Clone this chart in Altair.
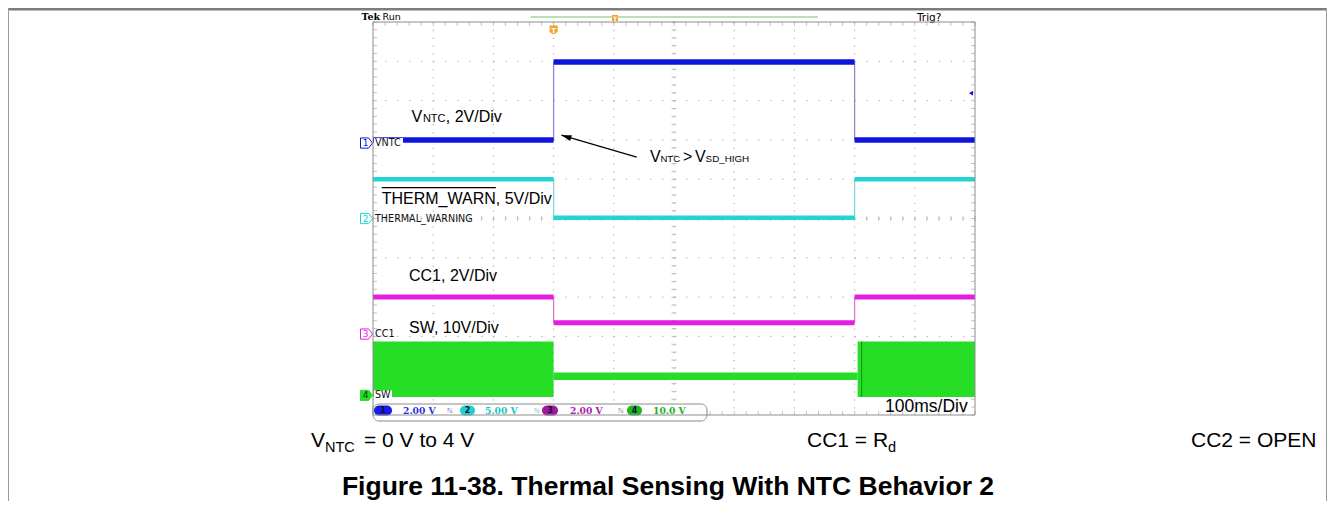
import altair as alt
import numpy as np
import pandas as pd

# ---------------- values ----------------
TIME_DOMAIN = [0, 1000]          # ms  (100 ms/div x 10 div)
DIV_DOMAIN = [-5, 5]             # vertical screen divisions

vntc_edges = [0, 300, 800, 1000]
vntc_levels = [2.0, 3.98, 2.0]
therm_edges = [0, 300, 800, 1000]
therm_levels = [1.0, 0.02, 1.0]
cc1_edges = [0, 300, 800, 1000]
cc1_levels = [-2.0, -2.65, -2.0]
sw_edges = [0, 300, 805, 1000]
sw_upper = [-3.13, -3.92, -3.13]
sw_lower = [-4.54, -4.11, -4.54]

channel_numbers = ["1", "2", "3", "4"]
channel_names = ["VNTC", "THERMAL_WARNING", "CC1", "SW"]
channel_offsets = [1.92, 0.0, -2.94, -4.5]
readout_values = ["2.00 V", "5.00 V", "2.00 V", "10.0 V"]

trigger_time = 300
trigger_level = 3.19
record_window = [262, 739]
record_marker = 402
timebase_label = "100ms/Div"
header_left = ["Tek", "Run"]
header_right = "Trig?"

ann_vntc = ["V", "NTC", ", 2V/Div"]
ann_therm = "THERM_WARN, 5V/Div"
ann_cc1 = "CC1, 2V/Div"
ann_sw = "SW, 10V/Div"
ann_arrow = ["V", "NTC", ">", "V", "SD_HIGH"]
arrow_tail = [438, 1.56]
arrow_tip = [313, 2.12]

caption_1 = ["V", "NTC", "= 0 V to 4 V"]
caption_2 = ["CC1 = R", "d"]
caption_3 = "CC2 = OPEN"
figure_title = "Figure 11-38. Thermal Sensing With NTC Behavior 2"

# ---------------- styling ----------------
W, H = 602, 393
SANS = "Liberation Sans"
SCOPE = "DejaVu Sans"
BLUE, CYAN, MAG, GREEN = "#0c14e0", "#22d4d4", "#e41ee0", "#25de25"
GRID = "#a9a9a9"
ORANGE = "#f2a22a"

xs = alt.Scale(domain=TIME_DOMAIN, nice=False, zero=False)
ys = alt.Scale(domain=DIV_DOMAIN, nice=False, zero=False)


def X(f):
    return alt.X(f, type="quantitative", scale=xs, axis=None)


def Y(f):
    return alt.Y(f, type="quantitative", scale=ys, axis=None)


def one(**kw):
    return pd.DataFrame({k: [v] for k, v in kw.items()})


def ptext(s, x, y, size, color="black", font=SANS, weight="normal",
          align="left", baseline="alphabetic"):
    return alt.Chart(one(s=s)).mark_text(
        align=align, baseline=baseline, fontSize=size, font=font,
        fontWeight=weight, color=color
    ).encode(x=alt.value(x), y=alt.value(y), text="s:N")


def dtext(s, t, v, size, dx=0, dy=0, color="black", font=SANS, weight="normal"):
    return alt.Chart(one(s=s, t=t, v=v)).mark_text(
        align="left", baseline="alphabetic", fontSize=size, font=font,
        fontWeight=weight, color=color, dx=dx, dy=dy
    ).encode(x=X("t"), y=Y("v"), text="s:N")


def prect(x, x2, y, y2, fill="white", stroke=None, radius=0, sw=1):
    kw = dict(fill=fill, cornerRadius=radius)
    if stroke:
        kw.update(stroke=stroke, strokeWidth=sw)
    return alt.Chart(one(a=0)).mark_rect(**kw).encode(
        x=alt.value(x), x2=alt.value(x2), y=alt.value(y), y2=alt.value(y2))


def segs(edges, levels):
    return pd.DataFrame({"t0": edges[:-1], "t1": edges[1:], "v": levels})


def steps(edges, levels):
    return pd.DataFrame({"t": edges[1:-1], "v0": levels[:-1], "v1": levels[1:]})


layers = []

# ---------------- graticule ----------------
vlines = pd.DataFrame({"t": np.arange(100, 1000, 100)})
hlines = pd.DataFrame({"v": np.arange(-4, 5, 1)})
layers.append(alt.Chart(vlines).mark_rule(color=GRID, strokeWidth=1, strokeDash=[1.3, 6.56]).encode(
    x=X("t"), y=alt.value(0), y2=alt.value(H)))
layers.append(alt.Chart(hlines).mark_rule(color=GRID, strokeWidth=1, strokeDash=[1.3, 10.74]).encode(
    y=Y("v"), x=alt.value(0), x2=alt.value(W)))

minor_t = np.round(np.arange(0, 1000.1, 20), 3)
minor_v = np.round(np.arange(-5, 5.01, 0.2), 3)
layers.append(alt.Chart(pd.DataFrame({"t": minor_t, "v": 0.0})).mark_tick(
    orient="vertical", size=5, thickness=1, color=GRID).encode(x=X("t"), y=Y("v")))
layers.append(alt.Chart(pd.DataFrame({"t": 500.0, "v": minor_v})).mark_tick(
    orient="horizontal", size=5, thickness=1, color=GRID).encode(x=X("t"), y=Y("v")))
# edge ticks
layers.append(alt.Chart(pd.DataFrame({"t": minor_t, "v": 5.0})).mark_tick(
    orient="vertical", size=4, thickness=1, color=GRID, yOffset=2).encode(x=X("t"), y=Y("v")))
layers.append(alt.Chart(pd.DataFrame({"t": minor_t, "v": -5.0})).mark_tick(
    orient="vertical", size=4, thickness=1, color=GRID, yOffset=-2).encode(x=X("t"), y=Y("v")))
layers.append(alt.Chart(pd.DataFrame({"t": 0.0, "v": minor_v})).mark_tick(
    orient="horizontal", size=4, thickness=1, color=GRID, xOffset=2).encode(x=X("t"), y=Y("v")))
layers.append(alt.Chart(pd.DataFrame({"t": 1000.0, "v": minor_v})).mark_tick(
    orient="horizontal", size=4, thickness=1, color=GRID, xOffset=-2).encode(x=X("t"), y=Y("v")))

# ---------------- traces ----------------
for edges, levels, col, thin, width in [
    (vntc_edges, vntc_levels, BLUE, "#8a8ad0", 5.5),
    (therm_edges, therm_levels, CYAN, "#7fd8d8", 4.5),
    (cc1_edges, cc1_levels, MAG, "#d47ad4", 5),
]:
    layers.append(alt.Chart(steps(edges, levels)).mark_rule(color=thin, strokeWidth=1.3).encode(
        x=X("t"), y=Y("v0"), y2="v1"))
    layers.append(alt.Chart(segs(edges, levels)).mark_rule(color=col, strokeWidth=width).encode(
        x=X("t0"), x2="t1", y=Y("v")))

sw_df = pd.DataFrame({"t0": sw_edges[:-1], "t1": sw_edges[1:], "hi": sw_upper, "lo": sw_lower})
layers.append(alt.Chart(sw_df).mark_rect(color=GREEN).encode(
    x=X("t0"), x2="t1", y=Y("hi"), y2="lo"))
# darker leading edge of the restarted switching burst
layers.append(alt.Chart(sw_df.iloc[[2]]).mark_rule(color="#168c16", strokeWidth=1, xOffset=4).encode(
    x=X("t0"), y=Y("hi"), y2="lo"))

# ---------------- channel labels / markers ----------------
ch_df = pd.DataFrame({"num": channel_numbers, "name": channel_names, "v": channel_offsets})
ch_cols = [BLUE, CYAN, MAG, GREEN]
PENT = "M-1,-0.85L0.35,-0.85L1,0L0.35,0.85L-1,0.85Z"
for i in range(4):
    d = ch_df.iloc[[i]]
    if i in (0, 3):
        wd = 30 if i == 0 else 19
        layers.append(alt.Chart(d).mark_rect(color="white", yOffset=-5, y2Offset=5).encode(
            x=alt.value(1), x2=alt.value(wd), y=Y("v"), y2="v"))
    layers.append(alt.Chart(d).mark_text(align="left", baseline="middle", fontSize=9.6,
                                         font=SCOPE, color="#111", dx=2).encode(
        x=alt.value(0), y=Y("v"), text="name:N"))
    layers.append(alt.Chart(d).mark_point(
        shape=PENT, size=144, filled=True, opacity=1,
        fill=(GREEN if i == 3 else "white"), stroke=ch_cols[i], strokeWidth=1).encode(
        x=alt.value(-6.5), y=Y("v")))
    layers.append(alt.Chart(d).mark_text(align="center", baseline="middle", fontSize=9,
                                         font=SCOPE, color=("#113311" if i == 3 else ch_cols[i]),
                                         dx=-1).encode(
        x=alt.value(-6.5), y=Y("v"), text="num:N"))

# ---------------- annotations ----------------
t0, v0 = 64, 2.46
layers.append(dtext(ann_vntc[0], t0, v0, 16))
layers.append(dtext(ann_vntc[1], t0, v0, 11, dx=11.4))
layers.append(dtext(ann_vntc[2], t0, v0, 16, dx=34.3))

layers.append(dtext(ann_therm, 14.5, 0.37, 16))
bar_df = pd.DataFrame({"t0": [14.5], "t1": [204], "v": [0.784]})
layers.append(alt.Chart(bar_df).mark_rule(color="black", strokeWidth=1.2).encode(
    x=X("t0"), x2="t1", y=Y("v")))
layers.append(dtext(ann_cc1, 59.8, -1.58, 16))
layers.append(dtext(ann_sw, 59.8, -2.91, 16))

ta, va = 460, 1.445
layers.append(dtext(ann_arrow[0], ta, va, 16))
layers.append(dtext(ann_arrow[1], ta, va, 9.6, dx=10.5))
layers.append(dtext(ann_arrow[2], ta, va, 16, dx=33))
layers.append(dtext(ann_arrow[3], ta, va, 16, dx=45))
layers.append(dtext(ann_arrow[4], ta, va, 9.8, dx=55.7))

arr_df = pd.DataFrame({"t0": [arrow_tail[0]], "v0": [arrow_tail[1]],
                       "t1": [arrow_tip[0]], "v1": [arrow_tip[1]]})
layers.append(alt.Chart(arr_df).mark_rule(color="black", strokeWidth=1.2).encode(
    x=X("t0"), y=Y("v0"), x2="t1", y2="v1"))
layers.append(alt.Chart(arr_df).mark_point(
    shape="M0,0L2,-0.6L2,0.6Z", size=100, filled=True, opacity=1, color="black",
    angle=16.6).encode(x=X("t1"), y=Y("v1")))

# ---------------- scope furniture ----------------
layers.append(ptext(header_left[0], -11.5, -2, 9.5, font="DejaVu Serif", weight="bold"))
layers.append(ptext(header_left[1], 9.5, -2, 9.5, font=SCOPE))
layers.append(ptext(header_right, 544, -1, 10.5, font=SCOPE))

rec_df = pd.DataFrame({"t0": [record_window[0]], "t1": [record_window[1]], "m": [record_marker]})
layers.append(alt.Chart(rec_df).mark_rule(color="#72c466", strokeWidth=1).encode(
    x=X("t0"), x2="t1", y=alt.value(-5)))
layers.append(alt.Chart(rec_df).mark_point(
    shape="M-1,-1L1,-1L1,1L-1,1Z", size=36, filled=True, opacity=1, color=ORANGE).encode(
    x=X("m"), y=alt.value(-4)))
layers.append(alt.Chart(rec_df).mark_text(fontSize=6, font=SCOPE, color="white",
                                          fontWeight="bold", baseline="middle").encode(
    x=X("m"), y=alt.value(-3.5), text=alt.value("T")))

trig_df = pd.DataFrame({"t": [trigger_time], "lev": [trigger_level], "e": [1000]})
layers.append(alt.Chart(trig_df).mark_point(
    shape="M-1,-1.1L1,-1.1L1,0.5L0,1.1L-1,0.5Z", size=64, filled=True, opacity=1,
    color=ORANGE).encode(x=X("t"), y=alt.value(8)))
layers.append(alt.Chart(trig_df).mark_text(fontSize=7, font=SCOPE, color="white",
                                           fontWeight="bold", baseline="middle").encode(
    x=X("t"), y=alt.value(8.5), text=alt.value("T")))
layers.append(alt.Chart(trig_df).mark_point(
    shape="triangle-left", size=22, filled=True, opacity=1, color=BLUE, xOffset=-4).encode(
    x=X("e"), y=Y("lev")))

# readout bar
layers.append(prect(0, 334, 382, 399, fill="white", stroke="#8a8a8a", radius=6))
ro_oval_x = [(1, 19), (87, 102), (169, 185), (254, 269)]
ro_oval_c = ["#1a1ae6", "#22d0d0", "#a4189e", "#1fb41f"]
ro_text_x = [30, 112, 197, 280]
ro_text_c = ["#3030e0", "#22c4c4", "#b020ae", "#22b022"]
ro_sym_x = [74, 161, 245]
ro_sym_c = ["#5a5ad0", "#5ab8c8", "#9a5aa8"]
for i in range(4):
    a, b = ro_oval_x[i]
    layers.append(prect(a, b, 383.5, 393.5, fill=ro_oval_c[i], radius=5))
    layers.append(ptext(channel_numbers[i], (a + b) / 2, 388.5, 8, color="#10103a",
                        font=SCOPE, weight="bold", align="center", baseline="middle"))
    layers.append(ptext(readout_values[i], ro_text_x[i], 388.5, 9.2, color=ro_text_c[i],
                        font="DejaVu Serif", weight="bold", baseline="middle"))
for i in range(3):
    layers.append(ptext("\u2115", ro_sym_x[i], 388.5, 7, color=ro_sym_c[i], font=SCOPE,
                        baseline="middle"))

layers.append(ptext(timebase_label, 512, 390, 17.5))

# screen border
layers.append(alt.Chart(one(a=0)).mark_rect(filled=False, stroke="#8c8c8c", strokeWidth=1).encode(
    x=alt.value(0), x2=alt.value(W), y=alt.value(0), y2=alt.value(H)))

# ---------------- captions & title ----------------
layers.append(ptext(caption_1[0], -62, 425, 21))
layers.append(ptext(caption_1[1], -48, 430, 14.5))
layers.append(ptext(caption_1[2], -9, 425, 21))
layers.append(ptext(caption_2[0], 434, 425, 21))
layers.append(ptext(caption_2[1], 515, 430, 14.5))
layers.append(ptext(caption_3, 818, 425, 21))
layers.append(ptext(figure_title, 295, 473, 26.5, weight="bold", align="center"))

# outer frame
layers.append(prect(-365, 954, -14, -11.5, fill="#7d7d7d"))
layers.append(prect(-365, -364, -14, 479, fill="#9a9a9a"))
layers.append(prect(953, 954, -14, 479, fill="#9a9a9a"))

chart = alt.layer(*layers).properties(
    width=W, height=H,
    autosize=alt.AutoSizeParams(type="none"),
    padding={"left": 365, "top": 14, "right": 352, "bottom": 86},
    background="white",
).configure_view(stroke=None)

chart.save("out.html", embed_options={"renderer": "svg", "actions": False})
